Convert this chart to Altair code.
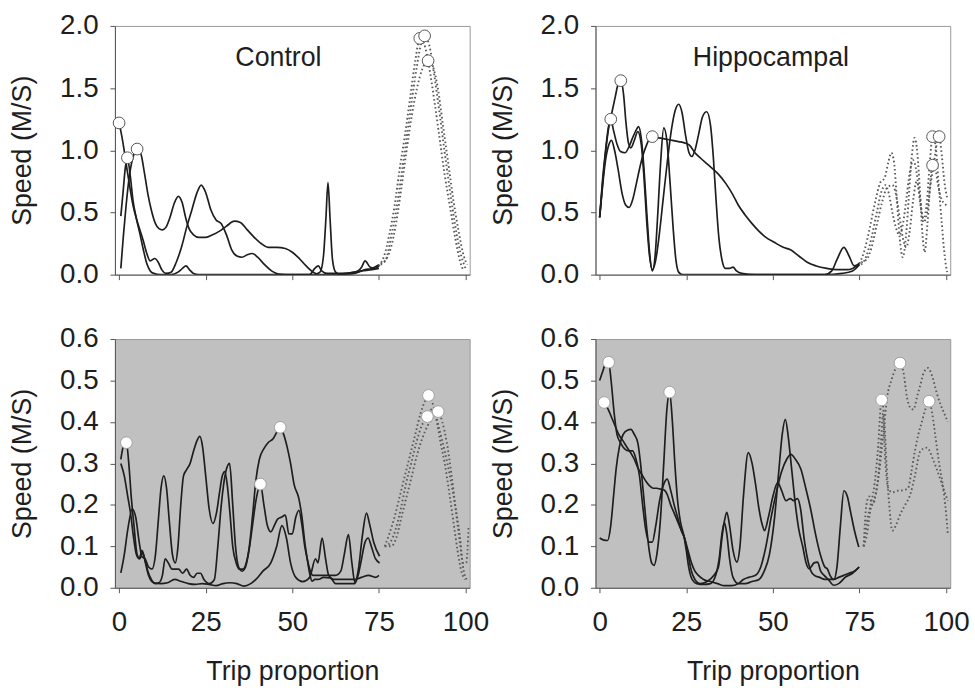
import altair as alt
import pandas as pd

# ---------------- data ----------------
X_TICKS = [0, 25, 50, 75, 100]
Y_TICKS_TOP = [0.0, 0.5, 1.0, 1.5, 2.0]
Y_TICKS_BOTTOM = [0.0, 0.1, 0.2, 0.3, 0.4, 0.5, 0.6]

# Control, top (white) panel
ct_solid_1 = [(0,1.22),(1,1.08),(2,0.9),(3,0.72),(4,0.56),(5,0.45),(6,0.36),(7,0.27),(8,0.17),(9,0.11),(10.3,0.13),(11.3,0.1),(12.3,0.04),(13.5,0.01),(15,0.02),(16.5,0.1),(18,0.22),(19.5,0.38),(21,0.52),(22.5,0.66),(23.7,0.72),(25,0.66),(26.5,0.52),(28,0.44),(29.5,0.41),(31,0.32),(32.5,0.2),(34,0.15),(35.5,0.14),(37,0.16),(38.5,0.17),(40,0.14),(42,0.08),(44,0.03),(46,0.005),(50,0.0),(55,0.0),(56.5,0.05),(57.5,0.07),(58.5,0.03),(60,0.01),(64,0.01),(68,0.02),(70,0.06),(71,0.11),(72.5,0.06),(74,0.05),(75,0.07)]
ct_solid_2 = [(0.5,0.47),(1.2,0.68),(1.8,0.86),(2.4,0.94),(3.2,0.8),(4,0.6),(5,0.45),(6,0.33),(7,0.2),(8,0.09),(9,0.03),(10,0.01),(12,0.0),(15,0.0),(17,0.02),(18.3,0.05),(19.3,0.07),(20.3,0.04),(21.5,0.01),(23,0.0),(30,0.0),(40,0.0),(50,0.0),(56,0.0),(58,0.02),(59,0.15),(59.7,0.45),(60.3,0.74),(60.9,0.45),(61.6,0.12),(62.5,0.02),(64,0.0),(68,0.01),(71,0.04),(73,0.05),(75,0.08)]
ct_solid_3 = [(0.5,0.05),(1.2,0.3),(2,0.55),(3,0.8),(4.2,0.96),(5.2,1.01),(6.3,0.97),(7.3,0.82),(8.3,0.65),(9.3,0.52),(10.5,0.41),(11.5,0.37),(12.5,0.36),(13.5,0.38),(14.8,0.47),(16,0.58),(17.1,0.63),(18.2,0.58),(19.2,0.46),(20.2,0.37),(21.5,0.32),(23,0.3),(25,0.3),(27,0.32),(29,0.35),(31,0.39),(33.3,0.43),(35,0.42),(37,0.36),(39,0.3),(41,0.25),(43,0.22),(45.5,0.22),(48,0.21),(50,0.18),(52,0.13),(54,0.07),(56,0.02),(58,0.0),(62,0.0),(66,0.01),(70,0.03),(73,0.04),(75,0.05)]
ct_dot_1 = [(75,0.07),(76.5,0.15),(78,0.32),(79.5,0.55),(81,0.85),(82.5,1.12),(84,1.42),(85.5,1.72),(86.8,1.9),(88,1.86),(89.5,1.67),(91,1.4),(92.5,1.1),(94,0.8),(95.5,0.55),(97,0.3),(98.5,0.1),(99.5,0.03)]
ct_dot_2 = [(75.5,0.08),(77,0.12),(78.5,0.3),(80,0.52),(81.5,0.8),(83,1.1),(84.5,1.4),(86,1.68),(87.2,1.86),(88.2,1.92),(89.5,1.85),(91,1.6),(92.5,1.3),(94,0.98),(95.5,0.68),(97,0.4),(98.5,0.18),(100,0.05)]
ct_dot_3 = [(75.5,0.09),(77,0.12),(78.5,0.22),(80,0.42),(81.5,0.7),(83,1.0),(84.5,1.28),(86,1.5),(87.5,1.65),(89.2,1.72),(90.5,1.68),(92,1.5),(93.5,1.2),(95,0.9),(96.5,0.6),(98,0.35),(99.5,0.15),(100.5,0.08)]
ct_circles = [(0,1.22),(2.4,0.94),(5.2,1.01),(86.8,1.90),(88.2,1.92),(89.2,1.72)]

# Hippocampal, top (white) panel
ht_solid_1 = [(0,0.46),(0.8,0.7),(1.7,0.92),(2.6,1.04),(3.4,1.08),(4.3,1.0),(5.3,0.85),(6.5,0.65),(7.5,0.56),(8.5,0.54),(9.5,0.6),(10.5,0.72),(11.5,0.85),(12.5,0.96),(13.5,1.04),(14.3,1.09),(15.2,1.11),(17,1.1),(19,1.09),(21,1.08),(22.8,1.07),(24.5,1.06),(26,1.04),(27.5,0.98),(29,0.94),(31,0.89),(34.2,0.81),(36.5,0.73),(38.5,0.64),(40,0.56),(42,0.48),(44,0.41),(45.6,0.36),(48,0.3),(50.4,0.26),(53,0.22),(55.1,0.2),(57.5,0.15),(59.9,0.1),(62.5,0.07),(65.6,0.05),(68.5,0.04),(71.3,0.04),(73,0.05),(74.2,0.07),(75,0.09)]
ht_solid_2 = [(0,0.46),(0.8,0.75),(1.7,1.0),(2.5,1.18),(3.2,1.25),(4,1.16),(5,1.05),(6,0.99),(7.3,0.98),(8.5,1.03),(9.5,1.1),(10.5,1.16),(11.2,1.19),(12,1.1),(12.8,0.85),(13.6,0.5),(14.4,0.18),(15.2,0.03),(16,0.15),(16.8,0.5),(17.6,0.9),(18.5,1.18),(19.4,1.08),(20.3,0.75),(21.2,0.38),(22,0.12),(22.8,0.02),(24,0.0),(30,0.0),(40,0.0),(50,0.0),(60,0.0),(65,0.0),(67,0.03),(68.5,0.12),(70.5,0.22),(72,0.15),(73.5,0.07),(75,0.09)]
ht_solid_3 = [(0,0.46),(0.8,0.72),(1.7,0.98),(2.6,1.18),(3.5,1.3),(4.5,1.43),(5.3,1.53),(6.1,1.56),(6.9,1.45),(7.6,1.22),(8.3,1.06),(9,1.02),(10,1.08),(11,1.15),(12,1.05),(12.8,0.78),(13.6,0.42),(14.4,0.15),(15.2,0.04),(16.2,0.12),(17.2,0.32),(18.3,0.6),(19.5,0.9),(20.8,1.18),(21.8,1.32),(22.8,1.37),(23.8,1.3),(24.8,1.12),(25.8,0.98),(26.6,0.95),(27.5,1.0),(28.5,1.12),(29.7,1.27),(30.9,1.31),(32,1.2),(32.8,0.95),(33.6,0.6),(34.4,0.3),(35.3,0.12),(36.3,0.05),(37.5,0.05),(38.5,0.06),(39.5,0.03),(41,0.01),(45,0.0),(55,0.0),(65,0.0),(70,0.01),(73,0.03),(75,0.08)]
ht_dot_1 = [(75,0.09),(76.5,0.2),(78,0.38),(79.5,0.58),(81,0.74),(82.3,0.78),(83.3,0.9),(84.2,0.98),(85,0.9),(85.8,0.6),(86.6,0.3),(87.5,0.14),(88.4,0.3),(89.3,0.65),(90.1,0.95),(90.9,1.1),(91.7,0.98),(92.5,0.65),(93.2,0.32),(93.8,0.18),(94.6,0.4),(95.4,0.72),(96.1,0.88),(96.9,0.85),(97.8,0.7),(98.8,0.6),(99.6,0.57),(100.5,0.55)]
ht_dot_2 = [(75.5,0.08),(77,0.15),(78.5,0.3),(80,0.5),(81.5,0.68),(82.5,0.72),(83.5,0.65),(84.5,0.5),(85.5,0.38),(86.5,0.32),(87.5,0.4),(88.5,0.6),(89.5,0.82),(90.5,0.92),(91.5,0.82),(92.5,0.58),(93.5,0.45),(94.5,0.6),(95.3,0.9),(96.1,1.11),(96.9,1.05),(97.8,0.75),(98.8,0.4),(99.6,0.15),(100.3,0.02)]
ht_dot_3 = [(75.5,0.1),(77,0.12),(78.5,0.22),(80,0.4),(81.5,0.58),(83,0.7),(84.5,0.72),(85.5,0.65),(86.5,0.48),(87.5,0.3),(88.5,0.22),(89.5,0.35),(90.5,0.6),(91.5,0.75),(92.5,0.62),(93.5,0.42),(94.5,0.5),(95.5,0.72),(96.5,0.9),(97.3,1.05),(98,1.11),(98.8,0.95),(99.5,0.75),(100.3,0.62)]
ht_circles = [(3.2,1.25),(6.1,1.56),(15.2,1.11),(96.1,1.11),(98,1.11),(96.1,0.88)]

# Control, bottom (grey) panel
cb_solid_1 = [(0.5,0.31),(1.2,0.34),(2.1,0.35),(2.8,0.3),(3.5,0.22),(4.3,0.15),(5.2,0.08),(6,0.07),(6.8,0.085),(7.6,0.06),(8.5,0.03),(10,0.012),(12,0.01),(14,0.012),(16,0.02),(18,0.015),(20,0.01),(22,0.008),(24,0.01),(26,0.008),(28,0.005),(30,0.01),(32,0.012),(34,0.01),(36,0.004),(38,0.01),(39.5,0.02),(41.5,0.04),(43.8,0.06),(45.5,0.1),(47,0.15),(48.3,0.12),(49.5,0.06),(51,0.025),(53,0.015),(55,0.025),(56.7,0.07),(57.4,0.06),(58.6,0.12),(59.6,0.07),(60.5,0.03),(62,0.02),(65,0.02),(68,0.02),(70,0.025),(72,0.03),(74,0.025),(75,0.03)]
cb_solid_2 = [(0.5,0.3),(1.5,0.27),(2.5,0.22),(3.3,0.18),(4.2,0.12),(5,0.08),(5.8,0.07),(6.6,0.09),(7.4,0.07),(8.3,0.04),(9.3,0.02),(10.5,0.01),(11.5,0.012),(12.5,0.03),(13.3,0.07),(14.2,0.06),(15.3,0.045),(16.3,0.045),(17.2,0.045),(18.3,0.035),(19.5,0.045),(20.5,0.03),(21.5,0.025),(22.5,0.035),(23.5,0.035),(24.5,0.02),(26,0.01),(27.5,0.02),(28.5,0.1),(29.5,0.2),(30.8,0.28),(31.9,0.3),(32.8,0.2),(33.6,0.1),(34.5,0.05),(35.5,0.04),(36.5,0.05),(37.5,0.09),(38.5,0.15),(39.5,0.21),(40.8,0.25),(41.8,0.2),(42.8,0.15),(43.8,0.135),(44.8,0.15),(45.7,0.165),(46.8,0.17),(48,0.175),(49,0.13),(50,0.13),(51,0.17),(51.9,0.187),(52.8,0.15),(53.6,0.1),(54.3,0.07),(55.2,0.04),(56,0.03),(57.5,0.03),(60,0.03),(62.5,0.03),(64,0.04),(65,0.08),(66.2,0.128),(67.2,0.06),(68.1,0.012),(69,0.03),(70,0.07),(71,0.11),(71.9,0.12),(72.8,0.1),(74,0.07),(75.2,0.06)]
cb_solid_3 = [(0.5,0.036),(1.5,0.08),(2.5,0.14),(3.8,0.19),(4.8,0.17),(5.8,0.11),(6.6,0.075),(7.5,0.07),(8.5,0.05),(9.5,0.045),(10.5,0.08),(11.3,0.16),(12.1,0.24),(12.9,0.27),(13.7,0.24),(14.5,0.16),(15.4,0.08),(16.2,0.06),(17,0.1),(17.8,0.2),(18.6,0.27),(19.5,0.285),(20.5,0.3),(21.5,0.33),(22.5,0.355),(23.3,0.365),(24.1,0.34),(25,0.27),(26,0.19),(27.1,0.155),(28.1,0.18),(29,0.23),(29.8,0.27),(30.5,0.28),(31.2,0.25),(32,0.18),(32.8,0.1),(33.8,0.06),(34.7,0.045),(35.7,0.045),(36.7,0.06),(37.6,0.1),(38.6,0.18),(39.5,0.26),(40.5,0.31),(41.9,0.337),(43,0.35),(44.5,0.36),(45.5,0.375),(46.5,0.387),(47.5,0.37),(48.5,0.34),(49.5,0.3),(50.5,0.25),(51.9,0.215),(52.8,0.17),(53.6,0.11),(54.3,0.07),(55,0.035),(55.7,0.016),(56.5,0.02),(57.5,0.02),(59,0.025),(61,0.024),(62.5,0.01),(64,0.01),(66,0.01),(68,0.01),(69,0.04),(70.3,0.13),(71.4,0.18),(72.4,0.15),(73.5,0.11),(75.2,0.076)]
cb_dot_1 = [(76.7,0.1),(78,0.13),(79.5,0.17),(81,0.22),(82.5,0.27),(84,0.32),(85.5,0.37),(87,0.42),(88.3,0.45),(89.3,0.464),(90.3,0.45),(91.5,0.41),(92.8,0.35),(94,0.3),(95.3,0.23),(96.5,0.16),(97.7,0.09),(98.8,0.04),(99.8,0.02)]
cb_dot_2 = [(76.7,0.1),(78.3,0.11),(79.8,0.14),(81.3,0.19),(82.8,0.25),(84.3,0.3),(85.8,0.35),(87.3,0.39),(89,0.413),(90.2,0.43),(91.2,0.42),(92.5,0.38),(94,0.33),(95.5,0.27),(97,0.2),(98.3,0.13),(99.3,0.06),(100.2,0.06),(100.9,0.15)]
cb_dot_3 = [(76.7,0.1),(78.5,0.1),(80,0.12),(81.5,0.17),(83,0.22),(84.5,0.27),(86,0.32),(87.5,0.36),(89,0.39),(90.5,0.41),(92.1,0.425),(93.3,0.4),(94.6,0.35),(96,0.27),(97.3,0.18),(98.5,0.1),(99.5,0.04),(100.3,0.02)]
cb_circles = [(2.1,0.35),(40.8,0.25),(46.5,0.387),(89.3,0.464),(89.0,0.413),(92.1,0.425)]

# Hippocampal, bottom (grey) panel
hb_solid_1 = [(0,0.5),(0.8,0.52),(1.7,0.54),(2.6,0.544),(3.3,0.5),(4.2,0.42),(5,0.37),(6,0.35),(7.2,0.335),(8.5,0.33),(9.5,0.33),(10.5,0.31),(11.5,0.27),(12.4,0.2),(13.3,0.14),(14.2,0.11),(15.2,0.11),(16.2,0.15),(17.3,0.21),(18.5,0.25),(19.5,0.262),(20.5,0.235),(21.5,0.2),(22.5,0.17),(23.5,0.14),(24.5,0.12),(25.5,0.08),(26.5,0.04),(27.5,0.02),(29,0.01),(31,0.015),(33,0.03),(34.3,0.05),(35.3,0.12),(36,0.16),(36.7,0.182),(37.5,0.15),(38.5,0.09),(39.6,0.062),(40.5,0.1),(41.5,0.22),(42.9,0.326),(44,0.3),(45,0.25),(46,0.19),(47,0.15),(47.6,0.138),(48.7,0.17),(50,0.22),(51.4,0.254),(52.5,0.235),(53.8,0.21),(55,0.215),(56,0.21),(57.1,0.215),(58,0.19),(59,0.12),(60,0.07),(61,0.04),(62,0.03),(63.5,0.025),(65,0.02),(66.5,0.02),(67.6,0.02),(68.5,0.05),(69.5,0.15),(70.5,0.234),(71.5,0.22),(72.5,0.18),(73.5,0.14),(74.8,0.098)]
hb_solid_2 = [(1.3,0.447),(2.5,0.43),(3.5,0.41),(4.5,0.39),(5.5,0.37),(6.7,0.355),(7.8,0.34),(9,0.325),(10,0.31),(11,0.29),(12.4,0.27),(13.5,0.255),(14.5,0.245),(15.5,0.24),(16.5,0.24),(17.5,0.238),(18.6,0.236),(19.5,0.225),(20.5,0.2),(21.5,0.18),(22.5,0.16),(23.5,0.14),(24.5,0.12),(25.5,0.09),(26.5,0.06),(27.5,0.04),(28.5,0.03),(30,0.02),(32,0.015),(34,0.01),(36,0.005),(38,0.005),(40,0.01),(41.5,0.02),(43,0.025),(45,0.03),(46.5,0.05),(48,0.1),(49.5,0.17),(51,0.23),(52.5,0.28),(54,0.31),(55.2,0.322),(56.5,0.31),(58.1,0.286),(59.5,0.24),(60.9,0.19),(62.3,0.13),(63.7,0.08),(65,0.05),(65.7,0.046),(66.5,0.03),(67.5,0.02),(69,0.025),(70.5,0.03),(72,0.035),(73.5,0.04),(74.9,0.05)]
hb_solid_3 = [(0,0.12),(1.2,0.115),(2.3,0.114),(3.2,0.15),(4,0.22),(4.8,0.29),(5.7,0.34),(6.8,0.37),(8,0.38),(9,0.382),(10,0.37),(11,0.35),(11.8,0.3),(12.6,0.23),(13.5,0.15),(14.3,0.09),(15,0.06),(15.7,0.054),(16.5,0.08),(17.5,0.16),(18.5,0.3),(19.4,0.43),(20.2,0.472),(21,0.4),(21.7,0.3),(22.5,0.21),(23.3,0.16),(24.3,0.126),(25,0.09),(25.7,0.05),(26.7,0.02),(28,0.01),(30,0.008),(32,0.01),(33.5,0.03),(34.5,0.07),(35.3,0.13),(36,0.158),(36.7,0.13),(37.5,0.07),(38.5,0.025),(40,0.01),(42,0.01),(44,0.015),(46,0.02),(47.5,0.04),(49,0.08),(50.5,0.17),(51.7,0.28),(52.7,0.37),(53.6,0.406),(54.5,0.36),(55.5,0.28),(56.5,0.2),(57.5,0.14),(58.6,0.1),(59.6,0.06),(60.5,0.046),(61.9,0.06),(62.9,0.062),(63.8,0.04),(64.8,0.03),(66,0.02),(67.6,0.006),(69,0.01),(71,0.026),(73,0.035),(74.9,0.05)]
hb_dot_1 = [(76.2,0.1),(77.2,0.16),(78.2,0.2),(79.2,0.24),(80.3,0.33),(81.4,0.453),(82.2,0.4),(82.8,0.3),(83.5,0.21),(84.5,0.138),(85.5,0.15),(86.8,0.178),(88.2,0.2),(89.7,0.226),(91,0.27),(92.6,0.33),(94.5,0.338),(96.4,0.306),(98,0.27),(99.2,0.24),(100.5,0.21)]
hb_dot_2 = [(76.2,0.1),(77,0.2),(77.8,0.22),(78.8,0.2),(79.8,0.23),(81,0.3),(82,0.38),(83,0.46),(84.2,0.5),(85.5,0.53),(86.7,0.542),(87.7,0.52),(88.7,0.46),(89.7,0.434),(90.6,0.43),(91.6,0.46),(92.6,0.49),(93.6,0.52),(94.8,0.53),(96,0.51),(97.3,0.47),(98.5,0.44),(99.5,0.42),(100.5,0.4)]
hb_dot_3 = [(76.2,0.1),(77.2,0.13),(78.2,0.19),(79.2,0.21),(80.3,0.26),(81.2,0.35),(81.8,0.42),(82.5,0.3),(83.3,0.24),(84.5,0.23),(86,0.234),(87.5,0.235),(89,0.24),(90,0.28),(91,0.33),(92,0.37),(93,0.4),(94,0.43),(95.1,0.45),(96,0.42),(97,0.36),(98,0.3),(99,0.25),(100,0.18),(100.5,0.13)]
hb_circles = [(1.3,0.447),(2.6,0.544),(20.2,0.472),(81.4,0.453),(86.7,0.542),(95.1,0.45)]

# ---------------- styling / layout ----------------
FONT = "Liberation Sans"
W, H = 358, 251
X_DOMAIN = [-1.2, 101.2]
INK = "#1e1e1e"


def curves_df(curves):
    rows = []
    for i, pts in enumerate(curves):
        for j, (x, y) in enumerate(pts):
            rows.append({"trial": i, "order": j, "x": x, "y": y})
    return pd.DataFrame(rows)


def panel(solid, dotted, circles, ymax, yticks, grey, bottom, label, label_x):
    x_axis = alt.Axis(
        values=X_TICKS, format="d", labels=bottom, tickSize=5, labelPadding=16,
        title="Trip proportion" if bottom else "",
        titleX=W / 2, titleY=93, titleAlign="center", titleBaseline="alphabetic",
    )
    y_axis = alt.Axis(
        values=yticks, format=".1f", tickSize=5, labelPadding=12,
        title="Speed (M/S)", titleX=-85, titleY=H / 2, titleAngle=270,
        titleAlign="center", titleBaseline="alphabetic",
    )
    xs = alt.X("x:Q", scale=alt.Scale(domain=X_DOMAIN, nice=False, zero=False), axis=x_axis)
    ys = alt.Y("y:Q", scale=alt.Scale(domain=[0, ymax], nice=False), axis=y_axis)

    solid_layer = alt.Chart(curves_df(solid)).mark_line(
        interpolate="monotone", color=INK, strokeWidth=1.7, clip=True
    ).encode(x=xs, y=ys, detail="trial:N", order="order:Q")

    dot_layer = alt.Chart(curves_df(dotted)).mark_line(
        interpolate="monotone", color="#5a5a5a", strokeWidth=1.9,
        strokeDash=[1.6, 2.6], clip=True
    ).encode(x=xs, y=ys, detail="trial:N", order="order:Q")

    circ_df = pd.DataFrame(circles, columns=["x", "y"])
    circ_layer = alt.Chart(circ_df).mark_point(
        shape="circle", filled=True, fill="white", opacity=1,
        stroke="#a0a0a0" if grey else "#555555", strokeWidth=1.0, size=140
    ).encode(x=xs, y=ys)

    layers = [solid_layer, dot_layer, circ_layer]
    if label:
        lab = alt.Chart(pd.DataFrame({"t": [label]})).mark_text(
            font=FONT, fontSize=27, color=INK, align="center", baseline="alphabetic"
        ).encode(x=alt.value(label_x), y=alt.value(40), text="t:N")
        layers.append(lab)

    return alt.layer(*layers).properties(
        width=W, height=H,
        view=alt.ViewBackground(fill="#c0c0c0" if grey else "white", stroke="#9a9a9a", strokeWidth=1),
    )


tl = panel([ct_solid_1, ct_solid_2, ct_solid_3], [ct_dot_1, ct_dot_2, ct_dot_3], ct_circles,
           2.0, Y_TICKS_TOP, False, False, "Control", 165)
tr = panel([ht_solid_1, ht_solid_2, ht_solid_3], [ht_dot_1, ht_dot_2, ht_dot_3], ht_circles,
           2.0, Y_TICKS_TOP, False, False, "Hippocampal", 177)
bl = panel([cb_solid_1, cb_solid_2, cb_solid_3], [cb_dot_1, cb_dot_2, cb_dot_3], cb_circles,
           0.6, Y_TICKS_BOTTOM, True, True, None, 0)
br = panel([hb_solid_1, hb_solid_2, hb_solid_3], [hb_dot_1, hb_dot_2, hb_dot_3], hb_circles,
           0.6, Y_TICKS_BOTTOM, True, True, None, 0)

chart = alt.concat(
    tl, tr, bl, br, columns=2, spacing={"row": 65, "column": 127}, bounds="flush"
).properties(
    padding={"left": 8, "top": 8, "right": 5, "bottom": 0},
    background="white",
).configure_axis(
    labelFont=FONT, titleFont=FONT, labelFontSize=28, titleFontSize=27,
    labelColor=INK, titleColor=INK, titleFontWeight="normal",
    tickColor="#555555", domainColor="#555555", grid=False,
).configure_view(stroke="#9a9a9a")

chart.save("out.html", embed_options={"renderer": "svg", "actions": False})
